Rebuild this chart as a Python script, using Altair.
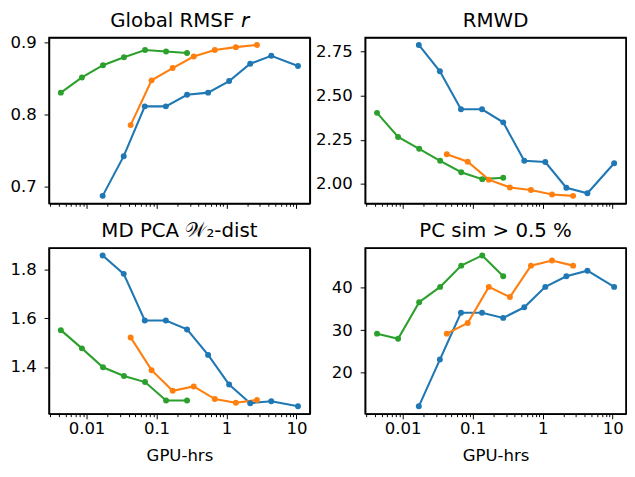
import math
import altair as alt
import pandas as pd

# ---- data ----
series_names = ["A", "B", "C"]
series_colors = ["#1f77b4", "#ff7f0e", "#2ca02c"]

gpu_a = [0.017, 0.034, 0.068, 0.136, 0.273, 0.546, 1.09, 2.18, 4.36, 10.5]
gpu_b = [0.0427, 0.085, 0.17, 0.34, 0.68, 1.36, 2.72]
gpu_c = [0.0043, 0.0086, 0.0172, 0.0343, 0.0686, 0.137, 0.273]

rmsf_a = [0.687, 0.742, 0.811, 0.811, 0.827, 0.830, 0.846, 0.870, 0.881, 0.867]
rmsf_b = [0.785, 0.847, 0.864, 0.880, 0.889, 0.893, 0.896]
rmsf_c = [0.830, 0.851, 0.868, 0.879, 0.889, 0.887, 0.885]

rmwd_a = [2.788, 2.639, 2.423, 2.423, 2.349, 2.131, 2.124, 1.978, 1.947, 2.117]
rmwd_b = [2.168, 2.126, 2.024, 1.980, 1.965, 1.940, 1.932]
rmwd_c = [2.403, 2.266, 2.199, 2.131, 2.066, 2.027, 2.035]

w2_a = [1.860, 1.784, 1.592, 1.592, 1.555, 1.450, 1.328, 1.251, 1.259, 1.238]
w2_b = [1.522, 1.387, 1.302, 1.320, 1.268, 1.253, 1.264]
w2_c = [1.552, 1.477, 1.399, 1.363, 1.338, 1.262, 1.262]

pcsim_a = [12.1, 23.1, 34.1, 34.1, 32.9, 35.4, 40.2, 42.7, 44.0, 40.2]
pcsim_b = [29.2, 31.7, 40.2, 37.8, 45.2, 46.4, 45.2]
pcsim_c = [29.2, 28.0, 36.6, 40.2, 45.2, 47.6, 42.7]

titles = ["Global RMSF 𝘳", "RMWD", "MD PCA 𝒲₂-dist", "PC sim > 0.5 %"]
yticks = [[0.7, 0.8, 0.9], [2.0, 2.25, 2.5, 2.75], [1.4, 1.6, 1.8], [20, 30, 40]]
yformats = [".1f", ".2f", ".1f", "d"]
yextent = [40, 51, 40, 51]

major_x = [0.01, 0.1, 1, 10]
minor_x = [0.003, 0.004, 0.005, 0.006, 0.007, 0.008, 0.009,
           0.02, 0.03, 0.04, 0.05, 0.06, 0.07, 0.08, 0.09,
           0.2, 0.3, 0.4, 0.5, 0.6, 0.7, 0.8, 0.9,
           2, 3, 4, 5, 6, 7, 8, 9]
x_labels = ["0.01", "0.1", "1", "10"]

all_x = gpu_a + gpu_b + gpu_c
lx0, lx1 = math.log10(min(all_x)), math.log10(max(all_x))
mx = (lx1 - lx0) * 0.05
x_domain = [10 ** (lx0 - mx), 10 ** (lx1 + mx)]

PW, PH = 264, 168
FONT = "DejaVu Sans"
LABEL_FS = 16.7
SPINE_W = 1.5

major_test = " || ".join(f"datum.value === {v}" for v in major_x)
label_expr = "".join(f"datum.value === {v} ? '{l}' : " for v, l in zip(major_x, x_labels)) + "''"

spine = dict(domain=True, domainColor="black", domainWidth=SPINE_W, ticks=False,
             labels=False, grid=False, minExtent=0, maxExtent=0)


def panel(idx, a, b, c, bottom):
    rows = []
    for name, xs, ys in zip(series_names, [gpu_a, gpu_b, gpu_c], [a, b, c]):
        for x, y in zip(xs, ys):
            rows.append({"series": name, "gpu": x, "value": y})
    df = pd.DataFrame(rows)
    vals = a + b + c
    lo, hi = min(vals), max(vals)
    m = (hi - lo) * 0.05
    ydom = [lo - m, hi + m]
    # how far the top tick label pokes above the plot (pushes the title up)
    dist = (ydom[1] - max(yticks[idx])) / (ydom[1] - ydom[0]) * PH
    overflow = max(0.0, 0.5 * LABEL_FS + 0.2 - dist)

    xscale = alt.Scale(type="log", domain=x_domain, nice=False)
    yscale = alt.Scale(domain=ydom, nice=False, zero=False)
    color = alt.Color("series:N", legend=None,
                      scale=alt.Scale(domain=series_names, range=series_colors))

    xaxis_kw = dict(
        values=sorted(major_x + minor_x),
        domain=True, domainColor="black", domainWidth=SPINE_W,
        grid=False,
        tickSize={"condition": {"test": major_test, "value": 5}, "value": 2.8},
        tickColor="black",
        tickWidth=1,
    )
    if bottom:
        xaxis_kw.update(labels=True, labelExpr=label_expr, labelPadding=2,
                        labelFontSize=LABEL_FS, labelFont=FONT, labelColor="black",
                        titleFontSize=LABEL_FS, titleFont=FONT,
                        titleFontWeight="normal", titleColor="black", titlePadding=10)
        xtitle = "GPU-hrs"
    else:
        xaxis_kw.update(labels=False)
        xtitle = None

    line = alt.Chart(df).mark_line(strokeWidth=2.1).encode(
        x=alt.X("gpu:Q", title=xtitle, scale=xscale, axis=alt.Axis(**xaxis_kw)),
        y=alt.Y("value:Q", title=None, scale=yscale,
                axis=alt.Axis(values=yticks[idx], format=yformats[idx],
                              domain=True, domainColor="black", domainWidth=SPINE_W,
                              grid=False, tickSize=5, tickColor="black", tickWidth=1,
                              labelPadding=8, labelFontSize=LABEL_FS, labelFont=FONT,
                              labelColor="black", minExtent=yextent[idx],
                              maxExtent=yextent[idx])),
        color=color,
    )
    pts = alt.Chart(df).mark_point(filled=True, size=36, opacity=1).encode(
        x=alt.X("gpu:Q", title=None, scale=xscale, axis=alt.Axis(orient="top", **spine)),
        y=alt.Y("value:Q", title=None, scale=yscale, axis=alt.Axis(orient="right", **spine)),
        color=color,
    )
    return alt.layer(line, pts).resolve_axis(x="independent", y="independent").properties(
        width=PW, height=PH,
        title=alt.TitleParams(titles[idx], fontSize=20, font=FONT, fontWeight="normal",
                              anchor="middle", frame="group", offset=7,
                              dy=round(overflow, 1), color="black"),
    )


tl = panel(0, rmsf_a, rmsf_b, rmsf_c, False)
tr = panel(1, rmwd_a, rmwd_b, rmwd_c, False)
bl = panel(2, w2_a, w2_b, w2_c, True)
br = panel(3, pcsim_a, pcsim_b, pcsim_c, True)

chart = alt.concat(
    tl, tr, bl, br, columns=2, spacing={"row": 10, "column": 3}, align="each"
).properties(
    padding={"left": 0.5, "top": -1, "right": 0, "bottom": 0},
    background="white",
).configure_view(
    stroke="black", strokeWidth=SPINE_W
)

chart.save("out.html", embed_options={"renderer": "svg", "actions": False})
